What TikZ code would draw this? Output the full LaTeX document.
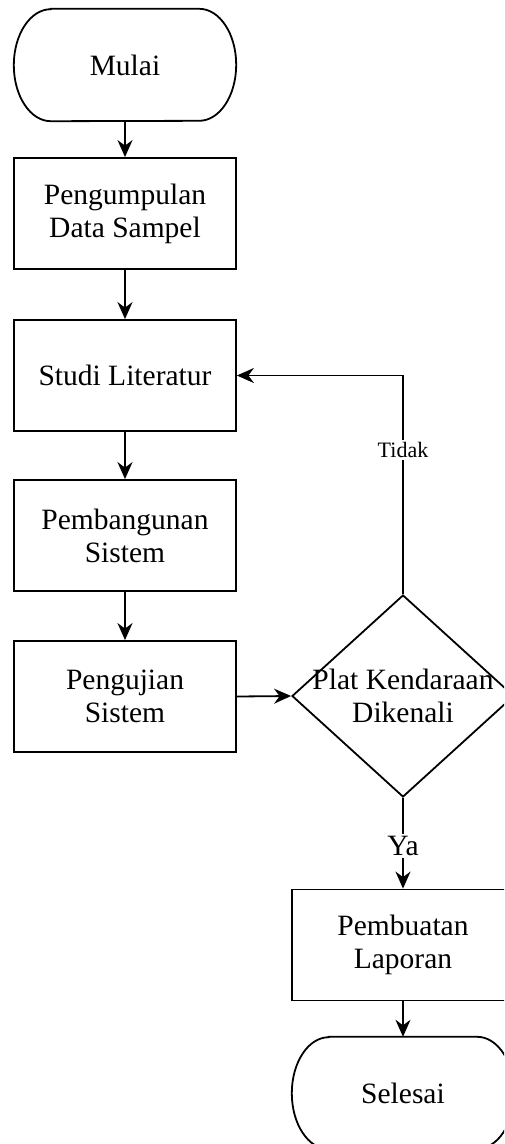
\documentclass[tikz,border=0pt]{standalone}
\usepackage{fontspec}
\setmainfont{Liberation Serif}
\usetikzlibrary{shapes.geometric,arrows.meta}
\tikzset{
  ln/.style={line width=1.8pt, draw=black},
  arr/.style={ln, -{Stealth[length=17pt,width=15pt,inset=5.5pt]}},
  txt/.style={font=\fontsize{29.5}{33}\selectfont, align=center, inner sep=0pt},
  procbox/.style={txt, draw, line width=1.8pt, rectangle, minimum width=222pt, minimum height=111pt},
  termbox/.style={txt, rectangle, minimum width=222pt, minimum height=112pt},
  decbox/.style={diamond, draw, line width=1.8pt, minimum width=222pt, minimum height=202pt, inner sep=0pt},
  lbl/.style={fill=white, inner sep=2pt}
}
\newcommand{\termoutline}[1]{%
  \draw[ln] ([xshift=37pt]#1.north west) -- ([xshift=-37pt]#1.north east)
    arc[start angle=90,end angle=-90,x radius=37pt,y radius=56pt]
    -- ([xshift=37pt]#1.south west)
    arc[start angle=270,end angle=90,x radius=37pt,y radius=56pt] -- cycle;}
\begin{document}
\begin{tikzpicture}[x=1pt,y=1pt]
\useasboundingbox (0,0) rectangle (504,-1144);
\clip (0,0) rectangle (504,-1144);
\fill[white] (0,0) rectangle (504,-1144);

\node[termbox] (m) at (125,-65) {Mulai};
\termoutline{m}
\node[procbox] (b1) at (125,-213.5) {Pengumpulan\\Data Sampel};
\node[procbox] (b2) at (125,-375.5) {Studi Literatur};
\node[procbox] (b3) at (125,-535.5) {Pembangunan\\Sistem};
\node[procbox] (b4) at (125,-696.5) {Pengujian\\Sistem};
\node[decbox, label={[txt]center:Plat Kendaraan\\Dikenali}] (d) at (403,-696) {};
\node[procbox] (b5) at (403,-945) {Pembuatan\\Laporan};
\node[termbox] (s) at (403,-1093) {Selesai};
\termoutline{s}

\draw[arr] (m.south) -- (b1.north);
\draw[arr] (b1.south) -- (b2.north);
\draw[arr] (b2.south) -- (b3.north);
\draw[arr] (b3.south) -- (b4.north);
\draw[arr] (b4.east) -- (d.west);
\draw[arr] (d.north) |- node[pos=0.33, lbl, font=\fontsize{22}{24}\selectfont] {Tidak} (b2.east);
\draw[arr] (d.south) -- node[pos=0.53, lbl, font=\fontsize{29.5}{33}\selectfont] {Ya} (b5.north);
\draw[arr] (b5.south) -- (s.north);
\end{tikzpicture}
\end{document}
